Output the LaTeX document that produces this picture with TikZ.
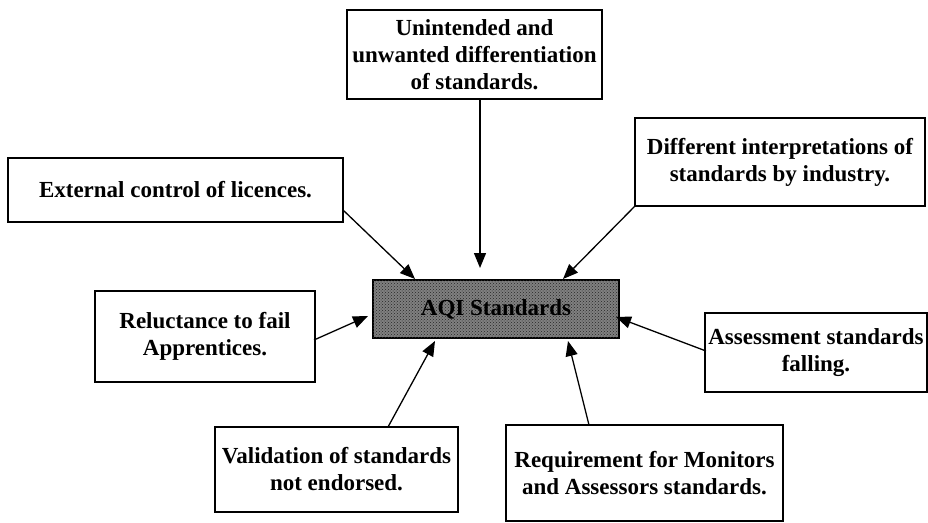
\documentclass[tikz,border=0pt]{standalone}
\usepackage{fontspec}
\setmainfont{Liberation Serif}
\usetikzlibrary{arrows.meta,patterns}
\begin{document}
\begin{tikzpicture}[x=1pt,y=-1pt,
  box/.style={draw=black,line width=1.2pt,fill=white,rectangle,align=center,inner sep=0pt,
    font=\fontsize{23}{27}\selectfont\bfseries},
  hub/.style={draw=black,line width=1.4pt,rectangle,inner sep=0pt,fill=black!50,
    postaction={pattern=crosshatch dots,pattern color=black!85},
    font=\fontsize{23}{27}\selectfont\bfseries},
  arr/.style={line width=1.3pt,-{Triangle[length=15pt,width=12pt]}}]
\useasboundingbox (0,0) rectangle (928,522);
\node[box,minimum width=255pt,minimum height=89pt] (utd) at (474.5,54.5)
  {Unintended and\\unwanted differentiation\\of standards.};
\node[box,minimum width=335pt,minimum height=64pt] (ext) at (175.5,190)
  {External control of licences.};
\node[box,minimum width=290pt,minimum height=88pt] (dif) at (780,162)
  {Different interpretations of\\standards by industry.};
\node[hub,minimum width=246pt,minimum height=58pt] (aqi) at (496,309) {AQI Standards};
\node[box,minimum width=220pt,minimum height=91pt] (rel) at (205,336.5)
  {Reluctance to fail\\Apprentices.};
\node[box,minimum width=222pt,minimum height=79pt] (ass) at (816,352.5)
  {Assessment standards\\falling.};
\node[box,minimum width=243pt,minimum height=85pt] (val) at (336.5,469.5)
  {Validation of standards\\not endorsed.};
\node[box,minimum width=277pt,minimum height=96pt] (req) at (644.5,473)
  {Requirement for Monitors\\and Assessors standards.};
% connector end points
\coordinate (s1) at (343,210); \coordinate (t1) at (415,279);
\coordinate (s2) at (480,99);  \coordinate (t2) at (480,268);
\coordinate (s3) at (636,205); \coordinate (t3) at (563,279);
\coordinate (s4) at (314,340); \coordinate (t4) at (368,316);
\coordinate (s5) at (706,351); \coordinate (t5) at (616,317);
\coordinate (s6) at (388,427); \coordinate (t6) at (435,341);
\coordinate (s7) at (589,425); \coordinate (t7) at (568,341);
\draw[arr] (s1) -- (t1);
\draw[arr] (s2) -- (t2);
\draw[arr] (s3) -- (t3);
\draw[arr] (s4) -- (t4);
\draw[arr] (s5) -- (t5);
\draw[arr] (s6) -- (t6);
\draw[arr] (s7) -- (t7);
\end{tikzpicture}
\end{document}
